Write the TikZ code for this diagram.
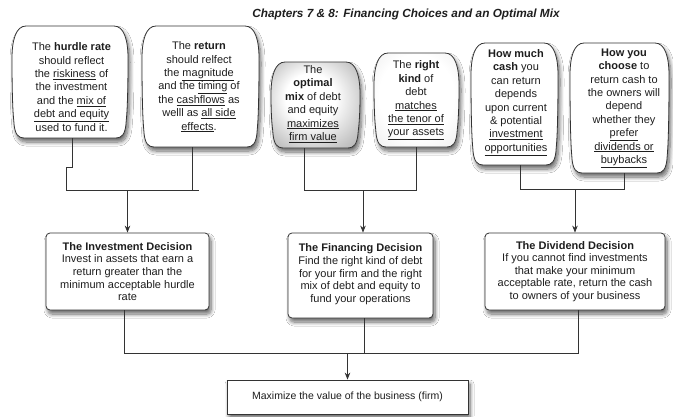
\documentclass[tikz,border=0pt]{standalone}
\usepackage{fontspec}
\setmainfont{Liberation Sans}
\usetikzlibrary{arrows.meta,shadows.blur,calc}
\definecolor{lc}{HTML}{333333}
\definecolor{tc}{HTML}{1E1E1E}
\newcommand\ul[1]{\underline{#1}}
\pgfdeclareradialshading{grayglow}{\pgfpoint{-4bp}{6bp}}{color(0bp)=(white); color(14bp)=(white); color(30bp)=(black!22); color(42bp)=(black!38); color(50bp)=(black!45)}
\pgfdeclareradialshading{faintglow}{\pgfpoint{0bp}{4bp}}{color(0bp)=(white); color(22bp)=(white); color(40bp)=(black!8); color(50bp)=(black!12)}
\newcommand\bubblepath[5]{% x1 y1 x2 y2 style
  \path[#5] ({#1+14},#2) -- ({#3-14},#2) .. controls ({#3-4},#2) and (#3,{#2+14}) .. (#3,{#2+32})
    .. controls (#3,{#4-24}) and ({#3-2},{#4-18}) .. ({#3-2},{#4-14})
    .. controls ({#3-3},{#4-4}) and ({#3-6},#4) .. ({#3-12},#4)
    -- ({#1+12},#4) .. controls ({#1+6},#4) and ({#1+3},{#4-4}) .. ({#1+2},{#4-14})
    .. controls ({#1+2},{#4-18}) and (#1,{#4-24}) .. (#1,{#2+32})
    .. controls (#1,{#2+14}) and ({#1+4},#2) .. ({#1+14},#2) -- cycle;}
\tikzset{
  shad/.style={blur shadow={shadow xshift=2pt, shadow yshift=-4pt, shadow blur radius=4pt, shadow blur steps=8, shadow opacity=60}},
  bub/.style={draw=lc, line width=0.8pt, fill=white, shad},
  bubtxt/.style={align=center, text=tc, font=\fontsize{11}{13.4}\selectfont, inner sep=0pt},
  anchorbox/.style={inner sep=0pt, outer sep=0pt, draw=none},
  decision/.style={draw=lc, line width=0.8pt, fill=white, rounded corners=4pt, align=center, text=tc,
     font=\fontsize{11}{12.6}\selectfont, inner sep=0pt, shad},
  finalbox/.style={draw=lc, line width=0.8pt, fill=white, align=center, text=tc,
     font=\fontsize{10.5}{12.6}\selectfont, inner sep=0pt, shad},
  conn/.style={draw=lc, line width=0.8pt},
  arr/.style={conn, -{Stealth[length=7pt,width=5.5pt]}},
}
\begin{document}
\begin{tikzpicture}[x=1pt,y=-1pt]
\useasboundingbox (0,0) rectangle (673,416);
\fill[white] (0,0) rectangle (673,416);

\node[font=\fontsize{11.8}{14}\selectfont\bfseries\itshape, text=tc] (title) at (406,14)
  {Chapters 7 \& 8: Financing Choices and an Optimal Mix};

% bubbles
\bubblepath{12}{26}{128}{138}{bub}
\node[anchorbox, minimum width=116, minimum height=112] (B1) at (70,82) {};
\node[bubtxt] (B1t) at (71.5,87) {The \textbf{hurdle rate}\\ should reflect\\ the \ul{riskiness} of\\ the investment\\ and the \ul{mix of}\\ \ul{debt and equity}\\ used to fund it.};

\bubblepath{142}{26}{259}{147}{bub}
\node[anchorbox, minimum width=117, minimum height=121] (B2) at (200.5,86.5) {};
\node[bubtxt] (B2t) at (199,87) {The \textbf{return}\\ should relfect\\ the \ul{magnitude}\\ and the \ul{timing} of\\ the \ul{cashflows} as\\ welll as \ul{all side}\\ \ul{effects}.};

\bubblepath{271}{62}{360}{148}{bub, shading=grayglow}
\node[anchorbox, minimum width=89, minimum height=86] (B3) at (315.5,105) {};
\node[bubtxt] (B3t) at (313,104) {The\\ \textbf{optimal}\\ \textbf{mix} of debt\\ and equity\\ \ul{maximizes}\\ \ul{firm value}};

\bubblepath{374}{53}{459}{147}{bub, shading=faintglow}
\node[anchorbox, minimum width=85, minimum height=94] (B4) at (416.5,100) {};
\node[bubtxt] (B4t) at (416,100.5) {The \textbf{right}\\ \textbf{kind} of\\ debt\\ \ul{matches}\\ \ul{the tenor of}\\ \ul{your assets}};

\bubblepath{471}{43}{558}{165}{bub}
\node[anchorbox, minimum width=87, minimum height=122] (B5) at (514.5,104) {};
\node[bubtxt] (B5t) at (516,102.5) {\textbf{How much}\\ \textbf{cash} you\\ can return\\ depends\\ upon current\\ \& potential\\ \ul{investment}\\ \ul{opportunities}};

\bubblepath{570}{43}{669}{173}{bub}
\node[anchorbox, minimum width=99, minimum height=130] (B6) at (619.5,108) {};
\node[bubtxt] (B6t) at (624,108.3) {\textbf{How you}\\ \textbf{choose} to\\ return cash to\\ the owners will\\ depend\\ whether they\\ \ul{prefer}\\ \ul{dividends or}\\ \ul{buybacks}};

% decisions
\node[decision, minimum width=163, minimum height=77] (D1) at (127.5,271.5)
  {\textbf{The Investment Decision}\\ Invest in assets that earn a\\ return greater than the\\ minimum acceptable hurdle\\ rate};
\node[decision, minimum width=145, minimum height=85] (D2) at (360.5,275.5)
  {\textbf{The Financing Decision}\\ Find the right kind of debt\\ for your firm and the right\\ mix of debt and equity to\\ fund your operations\\[-8pt]\mbox{}};
\node[decision, minimum width=180, minimum height=77] (D3) at (575,271.5)
  {\textbf{The Dividend Decision}\\ If you cannot find investments\\ that make your minimum\\ acceptable rate, return the cash\\ to owners of your business};

\node[finalbox, minimum width=241, minimum height=34] (F) at (347.5,397)
  {Maximize the value of the business (firm)};

% connectors group 1
\coordinate (b1o) at (72,138);
\coordinate (j1b) at (66,167);
\coordinate (j1c) at (66,190);
\coordinate (j1e) at (199,190);
\coordinate (b2o) at (192,147);
\coordinate (j1m) at (127.5,190);
\draw[conn] (b1o) |- (j1b) -- (j1c) -- (j1e);
\draw[conn] (b2o) -- (b2o |- j1c);
\draw[arr] (j1m) -- (D1.north);

% group 2
\coordinate (b3o) at (304,148);
\coordinate (j2a) at (304,190);
\coordinate (j2b) at (416.5,190);
\coordinate (j2m) at (363,190);
\draw[conn] (b3o) -- (j2a) -- (j2b) -- (B4.south);
\draw[arr] (j2m) -- (j2m |- D2.north);

% group 3
\coordinate (b5o) at (520,165);
\coordinate (b6o) at (624,173);
\coordinate (j3a) at (520,189);
\coordinate (j3b) at (624,189);
\coordinate (j3m) at (575,189);
\draw[conn] (b5o) -- (j3a) -- (j3b) -- (b6o);
\draw[arr] (j3m) -- (D3.north);

% bottom
\coordinate (d1o) at (124,310);
\coordinate (d2o) at (364,318);
\coordinate (d3o) at (578,310);
\coordinate (k1) at (124,353);
\coordinate (k3) at (578,353);
\coordinate (km) at (347.5,353);
\draw[conn] (d1o) -- (k1) -- (k3) -- (d3o);
\draw[conn] (d2o) -- (d2o |- k1);
\draw[arr] (km) -- (F.north);
\end{tikzpicture}
\end{document}
